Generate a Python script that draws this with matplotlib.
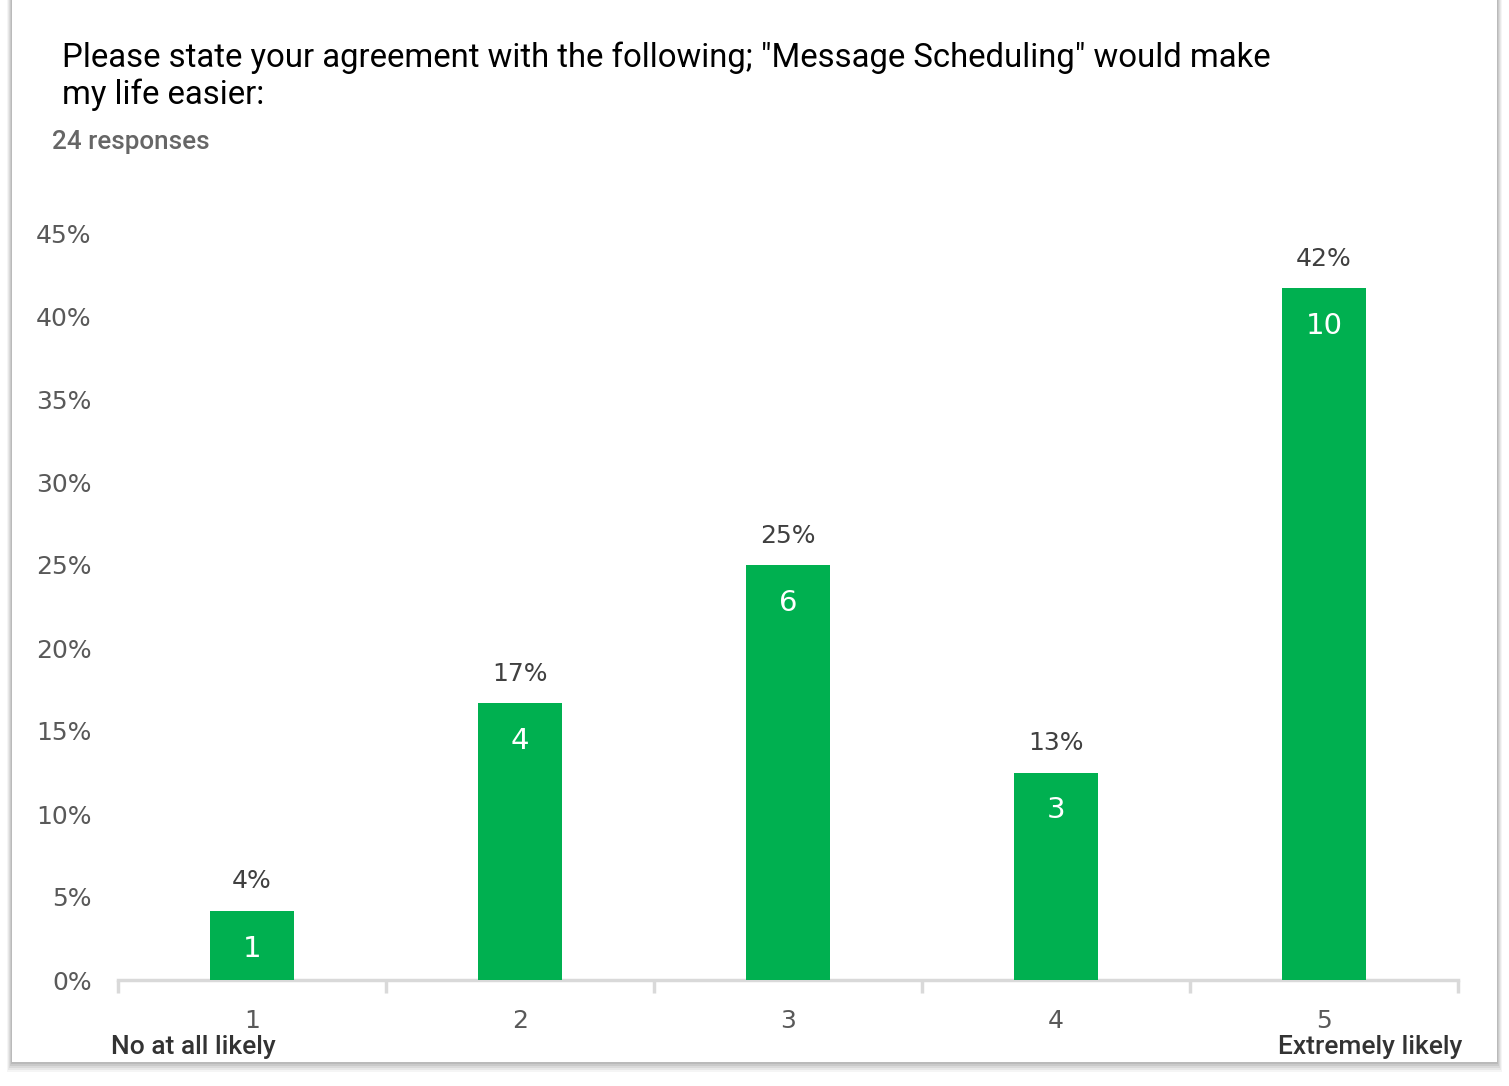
import matplotlib.pyplot as plt
from matplotlib.patches import Rectangle
import numpy as np

# Survey data
categories = ['1', '2', '3', '4', '5']
counts = [1, 4, 6, 3, 10]
total_responses = 24
percent_labels = ['4%', '17%', '25%', '13%', '42%']
y_ticks = [0, 0.05, 0.10, 0.15, 0.20, 0.25, 0.30, 0.35, 0.40, 0.45]

shares = np.array(counts) / total_responses
x = np.arange(1, len(categories) + 1)

fig = plt.figure(figsize=(15.09, 10.86), dpi=100)
fig.patch.set_facecolor('white')

# Card with a soft shadow
W, H = 1509, 1086
for i, a in enumerate([0.04, 0.05, 0.06, 0.07, 0.08]):
    off = 10 - 2 * i
    fig.patches.append(Rectangle(((12 - off / 2) / W, (1086 - 1062 - off) / H),
                                 (1485 + off) / W, (1062 + off) / H,
                                 transform=fig.transFigure, facecolor='#000000',
                                 alpha=a, edgecolor='none', zorder=0))
fig.patches.append(Rectangle((12 / W, (1086 - 1062) / H), 1485 / W, 1062 / H,
                             transform=fig.transFigure, facecolor='white',
                             edgecolor='none', zorder=1))

# Title and subtitle
fig.text(62 / W, 1 - 58 / H,
         'Please state your agreement with the following; "Message Scheduling" would make',
         fontsize=23.7, family='Roboto', color='#000000', va='center', ha='left', zorder=3)
fig.text(62 / W, 1 - 95 / H, 'my life easier:',
         fontsize=23.7, family='Roboto', color='#000000', va='center', ha='left', zorder=3)
fig.text(52 / W, 1 - 142 / H, '24 responses', fontsize=18.7, family='Roboto',
         weight='medium', color='#666666', va='center', ha='left', zorder=3)

ax = fig.add_axes([118 / W, 106 / H, 1340 / W, 747 / H])
ax.set_zorder(2)
ax.patch.set_visible(False)

ax.bar(x, shares, width=0.313, color='#00B050', zorder=3)

for xi, s, c, p in zip(x, shares, counts, percent_labels):
    ax.text(xi, s + 0.0177, p, ha='center', va='center', fontsize=18,
            color='#404040', family='DejaVu Sans')
    ax.text(xi, s - 0.0228, str(c), ha='center', va='center', fontsize=21,
            color='white', family='DejaVu Sans')

ax.set_xlim(0.5, 5.5)
ax.set_ylim(0, 0.45)
ax.set_yticks(y_ticks)
ax.set_yticklabels([f'{int(round(t * 100))}%' for t in y_ticks])
ax.set_xticks(x)
ax.set_xticklabels(categories)
ax.set_xticks(np.arange(0.5, 6.0, 1.0), minor=True)

for side in ['top', 'right', 'left']:
    ax.spines[side].set_visible(False)
ax.spines['bottom'].set_color('#d9d9d9')
ax.spines['bottom'].set_linewidth(2.5)

ax.tick_params(axis='y', length=0, labelsize=18, labelcolor='#595959', pad=19)
ax.tick_params(axis='x', which='major', length=0, labelsize=18,
               labelcolor='#595959', pad=21)
ax.tick_params(axis='x', which='minor', length=9, width=2.5, color='#d9d9d9',
               direction='out')

# Scale end labels
fig.text(193 / W, 1 - 1047 / H, 'No at all likely', fontsize=19, family='Roboto',
         weight='medium', color='#333333', ha='center', va='center', zorder=3)
fig.text(1370 / W, 1 - 1047 / H, 'Extremely likely', fontsize=19, family='Roboto',
         weight='medium', color='#333333', ha='center', va='center', zorder=3)

fig.savefig('out.png', dpi=100)
